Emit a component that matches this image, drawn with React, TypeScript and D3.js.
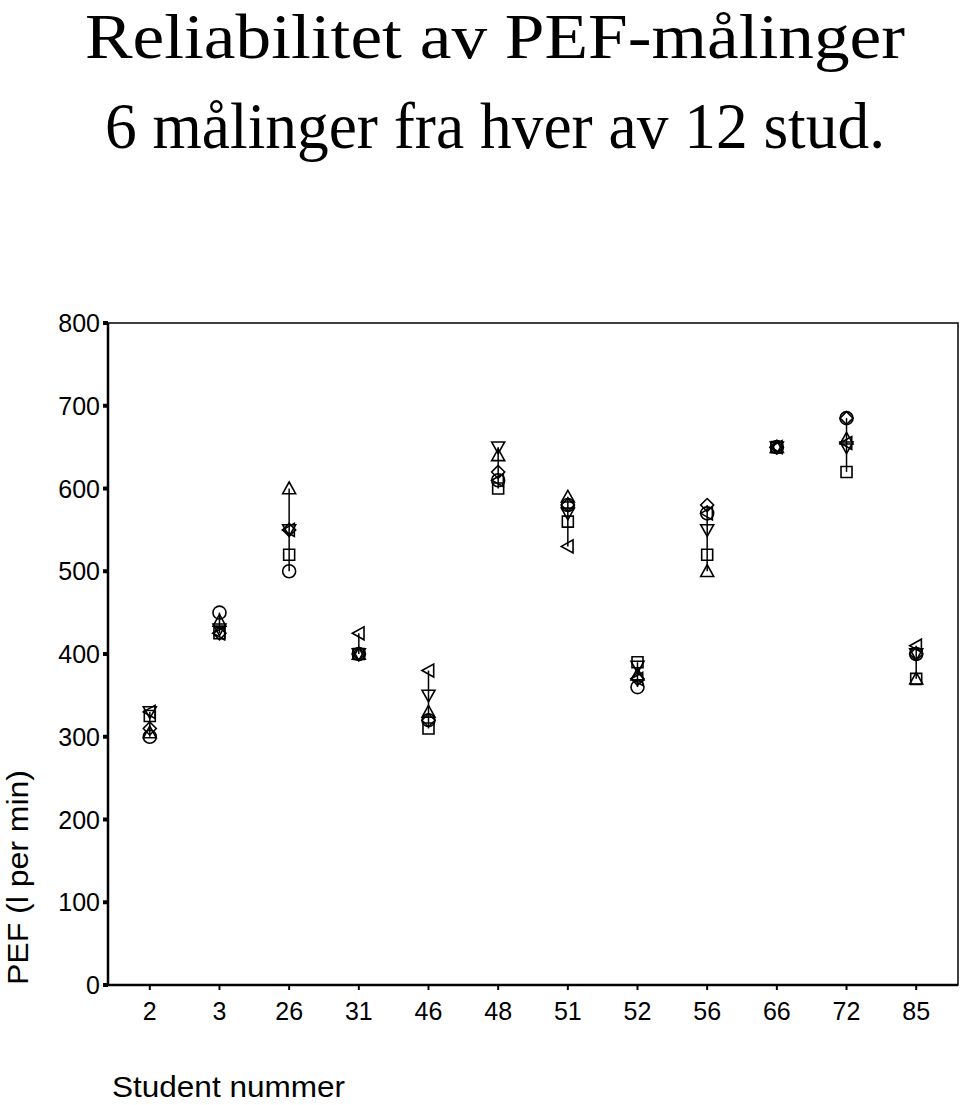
import React from "react";
import * as d3 from "d3";

const students = ["2", "3", "26", "31", "46", "48", "51", "52", "56", "66", "72", "85"];
// six measurements per student, one array per marker shape
const circleVals = [300, 450, 500, 400, 320, 610, 580, 360, 570, 650, 685, 400];
const squareVals = [325, 425, 520, 400, 310, 600, 560, 390, 520, 650, 620, 370];
const triUpVals = [305, 440, 600, 400, 330, 640, 590, 375, 500, 650, 660, 370];
const triDownVals = [330, 430, 550, 400, 350, 650, 570, 385, 550, 650, 650, 400];
const diamondVals = [310, 425, 550, 400, 320, 620, 580, 370, 580, 650, 685, 400];
const triLeftVals = [330, 425, 550, 425, 380, 610, 530, 370, 570, 650, 655, 410];
const yTicks = [0, 100, 200, 300, 400, 500, 600, 700, 800];

const series = [
  { shape: "circle", vals: circleVals },
  { shape: "square", vals: squareVals },
  { shape: "triUp", vals: triUpVals },
  { shape: "triDown", vals: triDownVals },
  { shape: "diamond", vals: diamondVals },
  { shape: "triLeft", vals: triLeftVals },
];

function markerPath(shape: string, cx: number, cy: number): string {
  const r = 6.5;
  switch (shape) {
    case "square":
      return `M${cx - 5.5},${cy - 5.5}h11v11h-11Z`;
    case "triUp":
      return `M${cx},${cy - r}L${cx + r},${cy + r * 0.8}L${cx - r},${cy + r * 0.8}Z`;
    case "triDown":
      return `M${cx},${cy + r}L${cx + r},${cy - r * 0.8}L${cx - r},${cy - r * 0.8}Z`;
    case "triLeft":
      return `M${cx - r},${cy}L${cx + r * 0.8},${cy - r}L${cx + r * 0.8},${cy + r}Z`;
    case "diamond":
      return `M${cx},${cy - r}L${cx + r},${cy}L${cx},${cy + r}L${cx - r},${cy}Z`;
    default:
      return "";
  }
}

export default function App() {
  const W = 960, H = 1105;
  const left = 108, right = 958, top = 323, bottom = 985;
  const x = d3.scalePoint<string>().domain(students).range([left, right]).padding(0.6);
  const y = d3.scaleLinear().domain([0, 800]).range([bottom, top]);
  const sans = "'Liberation Sans', Arial, sans-serif";
  const serif = "'Liberation Serif', 'Times New Roman', serif";

  return (
    <svg width={W} height={H} style={{ position: "absolute", left: 0, top: 0, background: "#fff" }}>
      <text x={85} y={58} fontFamily={serif} fontSize={63} textLength={820} lengthAdjust="spacingAndGlyphs">Reliabilitet av PEF-målinger</text>
      <text x={105} y={148} fontFamily={serif} fontSize={65} textLength={780} lengthAdjust="spacingAndGlyphs">6 målinger fra hver av 12 stud.</text>

      <rect x={left} y={top} width={right - left} height={bottom - top} fill="none" stroke="#000" strokeWidth={1.5} />
      <line x1={left} x2={left} y1={top} y2={bottom} stroke="#000" strokeWidth={2.5} />
      <line x1={left} x2={right} y1={bottom} y2={bottom} stroke="#000" strokeWidth={2.5} />

      {yTicks.map((t) => (
        <g key={t}>
          <line x1={left - 5} x2={left} y1={y(t)} y2={y(t)} stroke="#000" strokeWidth={4} />
          <text x={100} y={y(t) + 9} textAnchor="end" fontFamily={sans} fontSize={25}>{t}</text>
        </g>
      ))}
      {students.map((s) => (
        <g key={s}>
          <line x1={x(s)!} x2={x(s)!} y1={bottom} y2={bottom + 5} stroke="#000" strokeWidth={2} />
          <text x={x(s)!} y={1020} textAnchor="middle" fontFamily={sans} fontSize={25}>{s}</text>
        </g>
      ))}

      <text transform={`translate(28,985) rotate(-90)`} fontFamily={sans} fontSize={30} textLength={215} lengthAdjust="spacingAndGlyphs">PEF (l per min)</text>
      <text x={112} y={1097} fontFamily={sans} fontSize={29} textLength={233} lengthAdjust="spacingAndGlyphs">Student nummer</text>

      {students.map((s, i) => {
        const vals = series.map((se) => se.vals[i]);
        const mn = d3.min(vals)!, mx = d3.max(vals)!;
        return (
          <line key={"r" + s} x1={x(s)!} x2={x(s)!} y1={y(mn)} y2={y(mx)} stroke="#000" strokeWidth={1.5} />
        );
      })}
      {series.map((se) =>
        students.map((s, i) => {
          const cx = x(s)!, cy = y(se.vals[i]);
          if (se.shape === "circle")
            return <circle key={se.shape + s} cx={cx} cy={cy} r={6.5} fill="none" stroke="#000" strokeWidth={1.6} />;
          return <path key={se.shape + s} d={markerPath(se.shape, cx, cy)} fill="none" stroke="#000" strokeWidth={1.6} />;
        })
      )}
    </svg>
  );
}
